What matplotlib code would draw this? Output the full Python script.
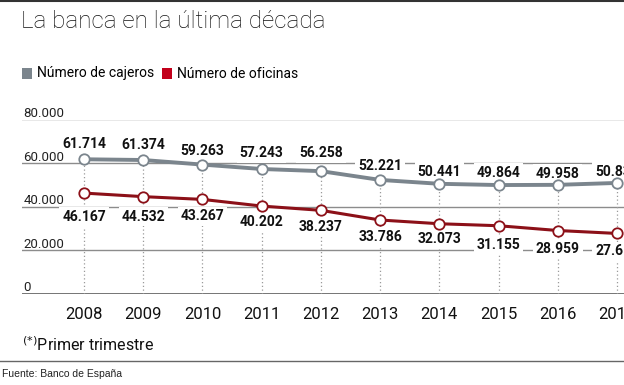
import matplotlib.pyplot as plt
import matplotlib.transforms as mtransforms
from matplotlib.patches import Rectangle

plt.rcParams['font.family'] = ['Roboto', 'DejaVu Sans']

# datos (Banco de España)
years = [2008, 2009, 2010, 2011, 2012, 2013, 2014, 2015, 2016, 2017]
year_labels = ['2008', '2009', '2010', '2011', '2012', '2013', '2014', '2015', '2016', '2017']
cajeros = [61714, 61374, 59263, 57243, 56258, 52221, 50441, 49864, 49958, 50834]
oficinas = [46167, 44532, 43267, 40202, 38237, 33786, 32073, 31155, 28959, 27613]
yticks = [0, 20000, 40000, 60000, 80000]

# desplazamiento de las etiquetas (pixeles), colocadas a mano como en el original
dy_cajeros = [15, 15, 14, 16, 18, 14, 12, 12, 11, 11]
dy_oficinas = [-24, -20, -17, -16, -17, -17, -15, -19, -18, -18]


def fmt(v):
    return f"{v:,}".replace(',', '.')


gray = '#7b858d'
red = '#8c1018'
red_leg = '#c2001b'
grid = '#8c8c8c'

W, H = 624, 385
fig = plt.figure(figsize=(W / 100, H / 100), dpi=100)
ax = fig.add_axes([22 / W, (H - 293.5) / H, 602 / W, 174 / H])
ax.set_xlim(2008 - 62 / 59.2, 2017 + 7 / 59.2)
ax.set_ylim(0, 80000)
ax.axis('off')

# rejilla y etiquetas del eje y
tr = mtransforms.blended_transform_factory(ax.transAxes, ax.transData)
for t in yticks:
    ax.axhline(t, color='#6a6a6a' if t == 0 else grid, lw=1.3 if t == 0 else 1.0, zorder=1)
    ax.text(0.002, t + 1100, fmt(t), transform=tr, ha='left', va='baseline',
            fontsize=9.5, color='#222222')

# lineas punteadas verticales
for x, c in zip(years, cajeros):
    ax.plot([x, x], [0, c], ls=(0, (1, 2)), color='#9a9a9a', lw=0.9, zorder=2)

ax.plot(years, cajeros, color=gray, lw=2.8, zorder=3,
        marker='o', ms=7.5, mfc='white', mec=gray, mew=1.3)
ax.plot(years, oficinas, color=red, lw=2.2, zorder=3,
        marker='o', ms=7.5, mfc='white', mec=red, mew=1.3)

# etiquetas con fondo blanco que cortan la rejilla (pero no las lineas)
box = dict(boxstyle='square,pad=0.2', fc='white', ec='none')
for x, c, d in zip(years, cajeros, dy_cajeros):
    ax.annotate(fmt(c), (x, c), xytext=(0, d), textcoords='offset pixels',
                ha='center', va='center', fontsize=10, fontweight='bold',
                color='#111111', bbox=box, zorder=2.5, annotation_clip=False)
for x, o, d in zip(years, oficinas, dy_oficinas):
    ax.annotate(fmt(o), (x, o), xytext=(0, d), textcoords='offset pixels',
                ha='center', va='center', fontsize=10, fontweight='bold',
                color='#111111', bbox=box, zorder=2.5, annotation_clip=False)

# años
for x, lab in zip(years, year_labels):
    ax.text(x, -6000, lab, ha='center', va='top', fontsize=12, color='#111111',
            clip_on=False)

# titulo, leyenda y notas
fig.text(21 / W, 1 - 22 / H, 'La banca en la última década', ha='left', va='center',
         fontsize=17.5, color='#111111', fontweight='light')
fig.patches.append(Rectangle((22 / W, 1 - 79 / H), 10 / W, 11 / H,
                             transform=fig.transFigure, fc=gray, ec='none'))
fig.text(37 / W, 1 - 73.5 / H, 'Número de cajeros', ha='left', va='center', fontsize=10)
fig.patches.append(Rectangle((162 / W, 1 - 79 / H), 10 / W, 11 / H,
                             transform=fig.transFigure, fc=red_leg, ec='none'))
fig.text(177 / W, 1 - 73.5 / H, 'Número de oficinas', ha='left', va='center', fontsize=10)

fig.text(22 / W, 1 - 345 / H, '$^{(*)}$Primer trimestre', ha='left', va='center',
         fontsize=11.5, color='#111111')
fig.text(2 / W, 1 - 374 / H, 'Fuente: Banco de España', ha='left', va='center',
         fontsize=7.5, color='#222222', family=['Liberation Sans'])

fig.add_artist(plt.Line2D([0, 1], [1 - 1 / H, 1 - 1 / H], transform=fig.transFigure,
                          color='#333333', lw=1.5))
fig.add_artist(plt.Line2D([0, 1], [1 - 361 / H, 1 - 361 / H], transform=fig.transFigure,
                          color='#666666', lw=1.0))

fig.savefig('out.png', dpi=100)
